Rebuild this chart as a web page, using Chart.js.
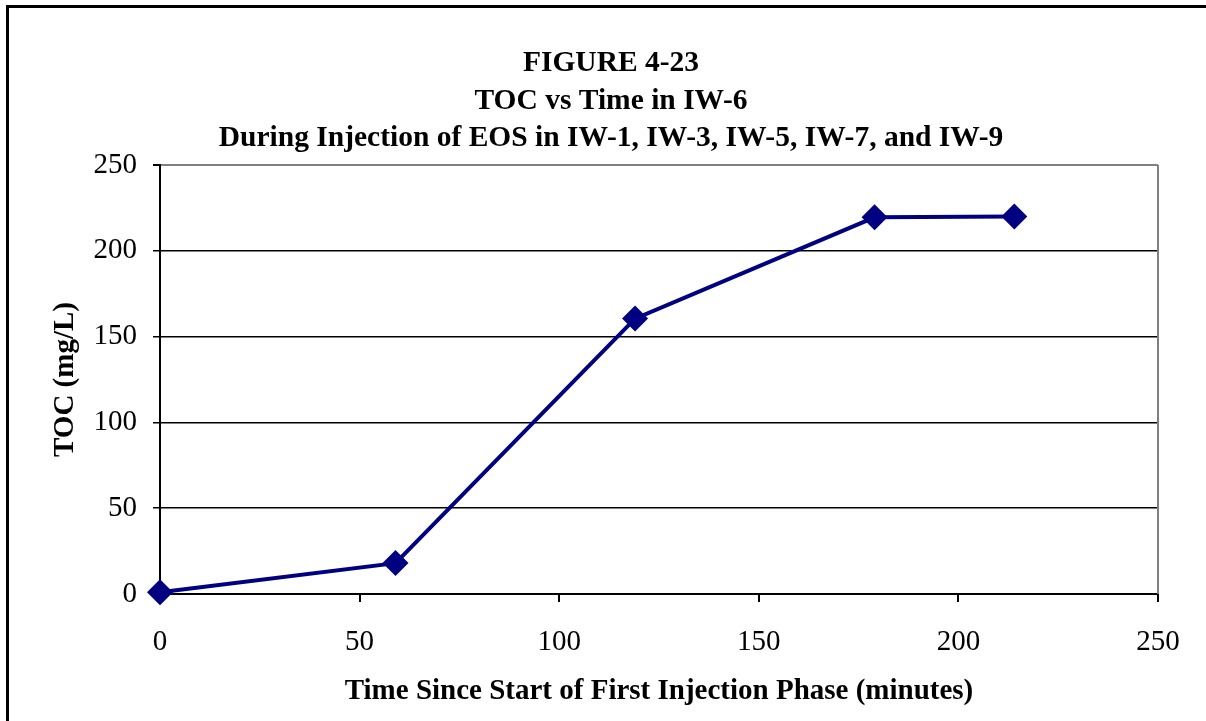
<!DOCTYPE html>
<html>
<head>
<meta charset="utf-8">
<title>TOC vs Time in IW-6</title>
<script src="https://cdn.jsdelivr.net/npm/chart.js@4.4.1/dist/chart.umd.min.js"></script>
<style>
  html, body { margin: 0; padding: 0; background: #fff; }
  #wrap { width: 1206px; height: 721px; }
</style>
</head>
<body>
<div id="wrap"><canvas id="toc-chart" width="1206" height="721"></canvas></div>
<script>
// sampling times (minutes) and TOC results (mg/L)
var timeMinutes = [0, 59, 119, 179, 214];
var tocValues = [1, 18, 160.5, 219.5, 220];
var axisTicks = [0, 50, 100, 150, 200, 250];
var titleLines = [
    'FIGURE 4-23',
    'TOC vs Time in IW-6',
    'During Injection of EOS in IW-1, IW-3, IW-5, IW-7, and IW-9'
];

var serif = "'Liberation Serif', 'Times New Roman', serif";

// outer frame, heading text and the grey right edge of the plot
var framePlugin = {
    id: 'frame',
    afterDraw: function(chart) {
        var ctx = chart.ctx;
        var area = chart.chartArea;
        ctx.save();
        ctx.strokeStyle = '#000';
        ctx.lineWidth = 3;
        ctx.strokeRect(7.5, 6.5, 1400, 1000);

        ctx.strokeStyle = '#808080';
        ctx.lineWidth = 2;
        ctx.beginPath();
        ctx.moveTo(area.right, area.top);
        ctx.lineTo(area.right, area.bottom);
        ctx.stroke();

        ctx.fillStyle = '#000';
        ctx.font = 'bold 29.5px ' + serif;
        ctx.textAlign = 'center';
        ctx.textBaseline = 'alphabetic';
        titleLines.forEach(function(line, i) {
            ctx.fillText(line, 611, 71 + i * 37.5);
        });
        ctx.restore();
    }
};

var points = timeMinutes.map(function(t, i) {
    return { x: t, y: tocValues[i] };
});

new Chart(document.getElementById('toc-chart').getContext('2d'), {
    type: 'scatter',
    data: {
        datasets: [{
            label: 'TOC',
            data: points,
            showLine: true,
            clip: false,
            borderColor: '#000080',
            backgroundColor: '#000080',
            borderWidth: 4,
            pointStyle: 'rectRot',
            pointRadius: 13,
            pointHoverRadius: 13,
            pointBorderWidth: 0
        }]
    },
    options: {
        responsive: false,
        animation: false,
        layout: { padding: { top: 165, right: 48, left: 10, bottom: 0 } },
        plugins: {
            legend: { display: false },
            tooltip: { enabled: false }
        },
        scales: {
            x: {
                type: 'linear',
                min: 0,
                max: 250,
                afterBuildTicks: function(scale) {
                    scale.ticks = axisTicks.map(function(v) { return { value: v }; });
                },
                afterFit: function(scale) { scale.height = 127; },
                ticks: {
                    color: '#000',
                    font: { family: serif, size: 29 },
                    padding: 23,
                    maxRotation: 0
                },
                grid: {
                    drawOnChartArea: false,
                    color: '#000',
                    lineWidth: 2,
                    tickLength: 8
                },
                border: { color: '#000', width: 2 },
                title: {
                    display: true,
                    text: 'Time Since Start of First Injection Phase (minutes)',
                    color: '#000',
                    font: { family: serif, size: 29, weight: 'bold' },
                    padding: { top: 0, bottom: 12 }
                }
            },
            y: {
                type: 'linear',
                min: 0,
                max: 250,
                afterBuildTicks: function(scale) {
                    scale.ticks = axisTicks.map(function(v) { return { value: v }; });
                },
                afterFit: function(scale) { scale.width = 150; },
                ticks: {
                    color: '#000',
                    font: { family: serif, size: 29 },
                    padding: 16
                },
                grid: {
                    color: function(ctx) {
                        return ctx.tick && ctx.tick.value === 250 ? '#808080' : '#000';
                    },
                    tickColor: '#000',
                    lineWidth: function(ctx) {
                        return ctx.tick && ctx.tick.value === 250 ? 2 : 1.5;
                    },
                    tickLength: 7
                },
                border: { color: '#000', width: 2 },
                title: {
                    display: true,
                    text: 'TOC (mg/L)',
                    color: '#000',
                    font: { family: serif, size: 29, weight: 'bold' },
                    padding: { top: 38, bottom: 0 }
                }
            }
        }
    },
    plugins: [framePlugin]
});
</script>
</body>
</html>
